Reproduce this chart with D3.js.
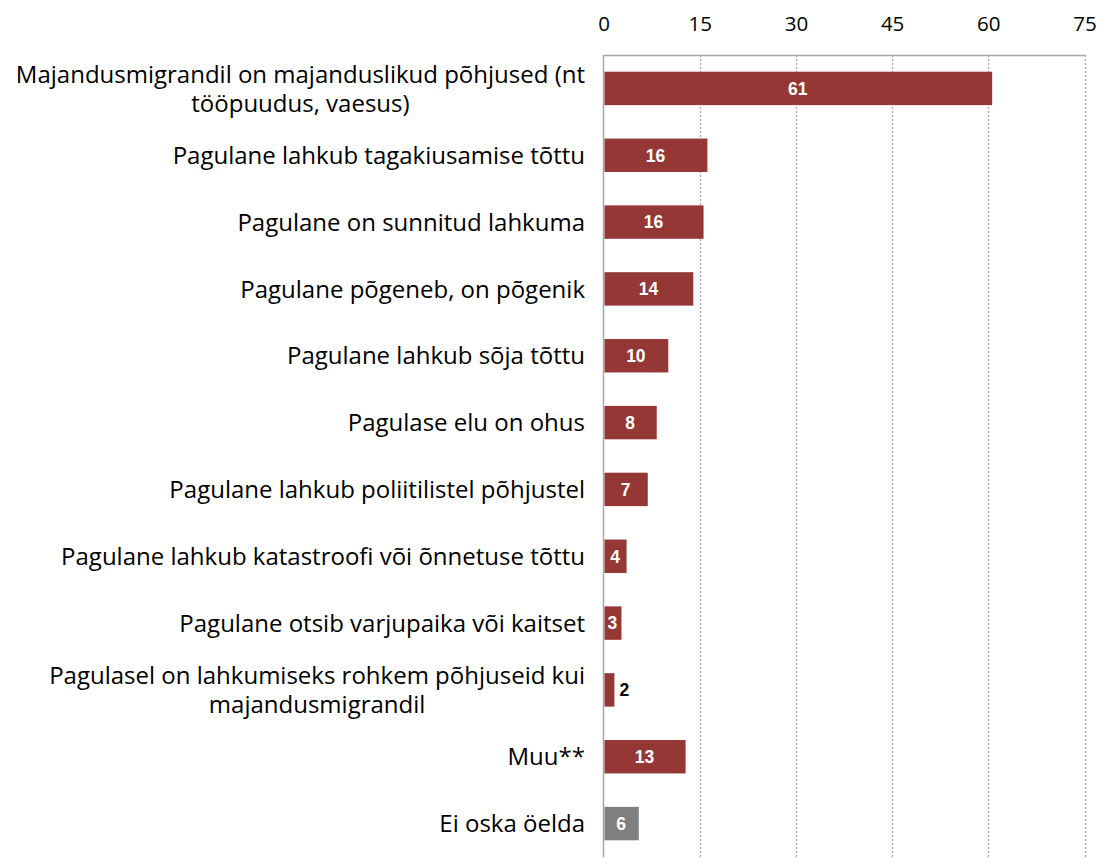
<!DOCTYPE html>
<html>
<head>
<meta charset="utf-8">
<script src="https://cdn.jsdelivr.net/npm/d3@7"></script>
<style>
  body { margin: 0; background: #fff; }
  .cat { font-family: "Open Sans", Lato, sans-serif; font-size: 24px; fill: #000; }
  .tick text { font-family: "Open Sans", Lato, sans-serif; font-size: 20.5px; fill: #000; }
  .val { font-family: "Liberation Sans", Arial, sans-serif; font-size: 17.5px; font-weight: bold; }
</style>
</head>
<body>
<svg width="1105" height="858"></svg>
<script>
// categories, top to bottom (lines split where the label wraps)
var categories = [
  ['Majandusmigrandil on majanduslikud põhjused (nt', 'tööpuudus, vaesus)'],
  ['Pagulane lahkub tagakiusamise tõttu'],
  ['Pagulane on sunnitud lahkuma'],
  ['Pagulane põgeneb, on põgenik'],
  ['Pagulane lahkub sõja tõttu'],
  ['Pagulase elu on ohus'],
  ['Pagulane lahkub poliitilistel põhjustel'],
  ['Pagulane lahkub katastroofi või õnnetuse tõttu'],
  ['Pagulane otsib varjupaika või kaitset'],
  ['Pagulasel on lahkumiseks rohkem põhjuseid kui', 'majandusmigrandil'],
  ['Muu**'],
  ['Ei oska öelda']
]
var values = [60.6, 16.2, 15.6, 14.0, 10.1, 8.3, 6.9, 3.6, 2.8, 1.7, 12.8, 5.5]
var labels = [61, 16, 16, 14, 10, 8, 7, 4, 3, 2, 13, 6]
var ticks = [0, 15, 30, 45, 60, 75]

var svg = d3.select('svg')
var plotLeft = 603.5
var plotRight = 1084.5
var plotTop = 55
var plotBottom = 857

var x = d3.scaleLinear().domain([0, 75]).range([plotLeft, plotRight])
var y = d3.scaleBand().domain(d3.range(categories.length)).range([plotTop, plotBottom]).paddingInner(0.5).paddingOuter(0.25)

// dotted grid lines
svg.append('g').selectAll('line')
    .data(ticks.slice(1))
  .enter().append('line')
    .attr('x1', function (d) { return Math.round(x(d)) + 0.5 })
    .attr('x2', function (d) { return Math.round(x(d)) + 0.5 })
    .attr('y1', plotTop)
    .attr('y2', plotBottom)
    .attr('stroke', '#a6a6a6')
    .attr('stroke-width', 1.3)
    .attr('stroke-dasharray', '2,2')

// top axis
var axis = svg.append('g')
    .attr('transform', 'translate(0,' + plotTop + ')')
    .call(d3.axisTop(x).tickValues(ticks).tickSize(0).tickPadding(24))
axis.select('.domain').attr('stroke', '#a6a6a6').attr('stroke-width', 1.3)

// left axis line
svg.append('line')
    .attr('x1', plotLeft).attr('x2', plotLeft)
    .attr('y1', plotTop).attr('y2', plotBottom)
    .attr('stroke', '#a6a6a6')
    .attr('stroke-width', 1.5)

// bars
svg.append('g').selectAll('rect')
    .data(values)
  .enter().append('rect')
    .attr('x', x(0) + 1)
    .attr('y', function (d, i) { return y(i) })
    .attr('width', function (d) { return x(d) - x(0) - 1 })
    .attr('height', y.bandwidth())
    .attr('fill', function (d, i) { return i === values.length - 1 ? '#7f7f7f' : '#953735' })

// value labels (the thinnest bar gets its label outside, in black)
function outside (d) { return x(d) - x(0) < 14 }
svg.append('g').selectAll('text')
    .data(values)
  .enter().append('text')
    .attr('class', 'val')
    .attr('x', function (d) { return outside(d) ? x(d) + 5 : (x(0) + x(d)) / 2 })
    .attr('y', function (d, i) { return y(i) + y.bandwidth() / 2 })
    .attr('dy', '0.36em')
    .attr('text-anchor', function (d) { return outside(d) ? 'start' : 'middle' })
    .attr('fill', function (d) { return outside(d) ? '#000' : '#fff' })
    .text(function (d, i) { return labels[i] })

// category labels, wrapped lines centred on each other and right aligned as a block
var labelRight = 585
var cat = svg.append('g').selectAll('text')
    .data(categories)
  .enter().append('text')
    .attr('class', 'cat')

cat.each(function (lines, i) {
  var t = d3.select(this)
  var lineH = 29
  var cy = y(i) + y.bandwidth() / 2
  var startY = cy - (lines.length - 1) * lineH / 2
  var spans = t.selectAll('tspan').data(lines).enter().append('tspan')
      .attr('y', function (d, j) { return startY + j * lineH })
      .attr('dy', '0.36em')
      .text(function (d) { return d })
  var maxW = 0
  spans.each(function () { maxW = Math.max(maxW, this.getComputedTextLength()) })
  spans.attr('x', labelRight - maxW / 2).attr('text-anchor', 'middle')
})
</script>
</body>
</html>
